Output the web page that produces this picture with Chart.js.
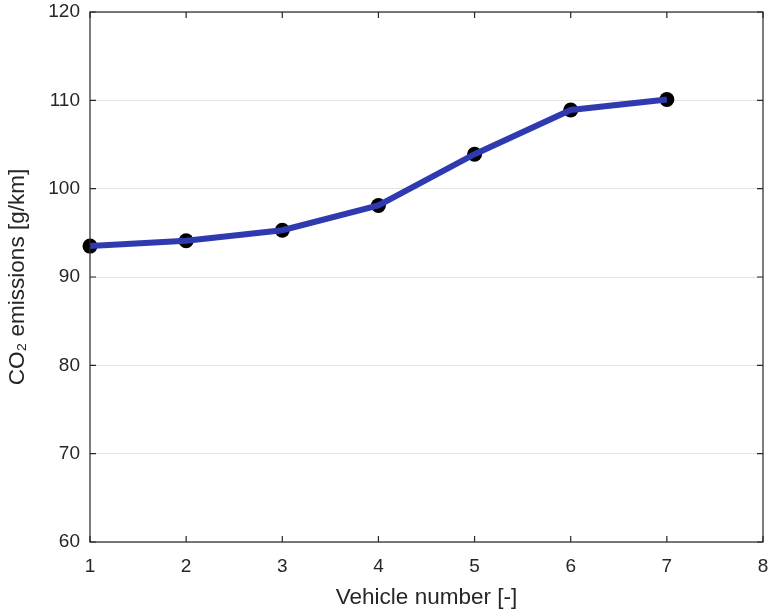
<!DOCTYPE html>
<html>
<head>
<meta charset="utf-8">
<script src="https://cdn.jsdelivr.net/npm/chart.js@4.4.1/dist/chart.umd.min.js"></script>
<style>
  html, body { margin: 0; padding: 0; background: #fff; }
  #wrap { width: 768px; height: 612px; position: relative; }
</style>
</head>
<body>
<div id="wrap"><canvas id="co2"></canvas></div>
<script>
// vehicle numbers and measured CO2 values
const vehicles = [1, 2, 3, 4, 5, 6, 7];
const co2Values = [93.5, 94.1, 95.3, 98.1, 103.9, 108.9, 110.1];
const xTicks = [1, 2, 3, 4, 5, 6, 7, 8];
const yTicks = [60, 70, 80, 90, 100, 110, 120];

const axisColor = "#262626";
const fontFamily = "'Liberation Sans', Arial, sans-serif";

const points = vehicles.map((v, i) => ({ x: v, y: co2Values[i] }));

// box round the plot + small inward ticks like matlab
const boxPlugin = {
  id: "matlabBox",
  afterDraw(chart) {
    const { ctx, chartArea, scales } = chart;
    const { left, right, top, bottom } = chartArea;
    const len = 6;
    ctx.save();
    ctx.strokeStyle = axisColor;
    ctx.lineWidth = 1.2;
    ctx.strokeRect(left, top, right - left, bottom - top);
    ctx.beginPath();
    xTicks.forEach((t) => {
      const px = scales.x.getPixelForValue(t);
      ctx.moveTo(px, bottom); ctx.lineTo(px, bottom - len);
      ctx.moveTo(px, top); ctx.lineTo(px, top + len);
    });
    yTicks.forEach((t) => {
      const py = scales.y.getPixelForValue(t);
      ctx.moveTo(left, py); ctx.lineTo(left + len, py);
      ctx.moveTo(right, py); ctx.lineTo(right - len, py);
    });
    ctx.stroke();
    ctx.restore();
  },
};

new Chart(document.getElementById("co2"), {
  type: "line",
  data: {
    datasets: [
      {
        // blue line, drawn over the markers
        data: points,
        borderColor: "#2f3ab0",
        borderWidth: 6,
        pointRadius: 0,
        tension: 0,
        fill: false,
        clip: false,
        order: 1,
      },
      {
        data: points,
        showLine: false,
        pointRadius: 7.5,
        pointBackgroundColor: "#000",
        pointBorderColor: "#000",
        pointBorderWidth: 0,
        clip: false,
        order: 2,
      },
    ],
  },
  options: {
    responsive: true,
    maintainAspectRatio: false,
    animation: false,
    layout: { autoPadding: false, padding: { top: 12, right: 5, left: 0, bottom: 0 } },
    plugins: {
      legend: { display: false },
      tooltip: { enabled: false },
    },
    scales: {
      x: {
        type: "linear",
        min: 1,
        max: 8,
        afterBuildTicks: (s) => { s.ticks = xTicks.map((v) => ({ value: v })); },
        afterFit: (s) => { s.height = 70; s.paddingLeft = 0; s.paddingRight = 0; },
        grid: { display: false, drawTicks: false },
        border: { display: false },
        ticks: {
          padding: 13,
          color: axisColor,
          font: { family: fontFamily, size: 19 },
        },
        title: {
          display: true,
          text: "Vehicle number [-]",
          color: axisColor,
          font: { family: fontFamily, size: 22.5 },
          padding: { top: 0, bottom: 1 },
        },
      },
      y: {
        min: 60,
        max: 120,
        afterBuildTicks: (s) => { s.ticks = yTicks.map((v) => ({ value: v })); },
        afterFit: (s) => { s.width = 90; s.paddingTop = 0; s.paddingBottom = 0; },
        grid: { color: "#e3e3e3", lineWidth: 1, drawTicks: false },
        border: { display: false },
        ticks: {
          padding: 10,
          color: axisColor,
          font: { family: fontFamily, size: 19 },
        },
        title: {
          display: true,
          text: "CO₂ emissions [g/km]",
          color: axisColor,
          font: { family: fontFamily, size: 22.5 },
          padding: { top: 4, bottom: 0 },
        },
      },
    },
  },
  plugins: [boxPlugin],
});
</script>
</body>
</html>
